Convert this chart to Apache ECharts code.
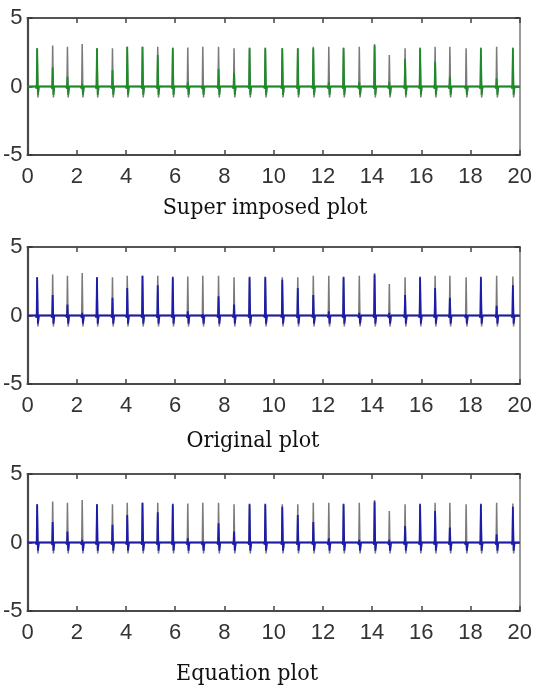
<!DOCTYPE html>
<html>
<head>
<meta charset="utf-8">
<script src="https://cdn.jsdelivr.net/npm/echarts@6/dist/echarts.min.js"></script>
<style>
html,body{margin:0;padding:0;background:#fff;}
#chart{width:535px;height:692px;}
</style>
</head>
<body>
<div id="chart"></div>
<script>
// ---- data ----
const beatTimes = [0.39, 1.02, 1.62, 2.22, 2.82, 3.45, 4.05, 4.67, 5.29, 5.90, 6.51, 7.12, 7.76, 8.39, 9.02, 9.66,
                   10.35, 10.98, 11.61, 12.24, 12.84, 13.48, 14.10, 14.70, 15.34, 15.95, 16.56, 17.16, 17.82, 18.42, 19.06, 19.72];
// peaks of the (gray) reference ECG trace
const grayPeaks = [2.8, 3.0, 2.9, 3.1, 2.8, 2.8, 2.9, 2.9, 2.9, 2.85, 2.85, 2.9, 2.9, 2.8, 2.85, 2.85,
                   2.8, 2.8, 2.9, 2.9, 2.85, 2.9, 3.1, 2.3, 2.8, 2.85, 2.9, 2.9, 2.8, 2.85, 2.9, 2.85];
// peaks of the coloured traces
const superPeaks = [2.8, 1.4, 0.7, 0.2, 2.8, 1.2, 2.9, 2.9, 2.3, 2.8, 0.3, 0.1, 1.3, 1.0, 2.8, 2.8,
                    2.8, 2.8, 2.8, 0.3, 2.8, 0.3, 3.0, 0.3, 2.0, 2.8, 1.8, 0.7, 0.1, 2.8, 0.6, 2.8];
const originalPeaks = [2.8, 1.5, 0.8, 0.2, 2.8, 1.3, 2.0, 2.9, 2.2, 2.8, 0.3, 0.1, 1.4, 0.8, 2.8, 2.8,
                       2.6, 2.0, 1.5, 0.3, 2.8, 0.2, 3.0, 0.2, 1.5, 2.8, 2.0, 1.3, 0.1, 2.8, 0.7, 2.2];
const equationPeaks = [2.8, 1.5, 0.8, 0.2, 2.8, 1.3, 2.0, 2.9, 2.2, 2.8, 0.3, 0.1, 1.4, 0.8, 2.8, 2.8,
                       2.6, 2.0, 1.5, 0.3, 2.8, 0.2, 3.0, 0.2, 1.2, 2.8, 2.3, 1.1, 0.1, 2.8, 0.6, 2.6];
const grayTrough = -0.8;
const colorTrough = -0.6;
const xTicks = [0, 2, 4, 6, 8, 10, 12, 14, 16, 18, 20];
const yTicks = [-5, 0, 5];
const plotTitles = ['Super imposed plot', 'Original plot', 'Equation plot'];
const plotColors = ['#1f8a2a', '#1c1ca8', '#1c1ca8'];
const colorPeaks = [superPeaks, originalPeaks, equationPeaks];

// ---- layout ----
const gridTops = [18, 247, 474];
const gridH = 137;
const titleY = [208, 441, 674];
const titleX = [265, 253, 247];
const numFont = '"Liberation Sans", Arial, sans-serif';
const serifFont = '"DejaVu Serif Condensed", "DejaVu Serif", serif';

function wave(peaks, trough) {
  const pts = [[0, 0]];
  beatTimes.forEach((t, i) => {
    pts.push([t - 0.06, 0], [t - 0.02, -0.15], [t, peaks[i]], [t + 0.03, trough], [t + 0.07, 0]);
  });
  pts.push([20, 0]);
  return pts;
}

const grids = [], xAxes = [], yAxes = [], series = [], graphics = [];
for (let i = 0; i < 3; i++) {
  grids.push({left: 26, right: 7, top: gridTops[i], height: gridH, show: false});
  const xBase = {
    type: 'value', gridIndex: i, min: xTicks[0], max: xTicks[xTicks.length - 1], interval: 2,
    splitLine: {show: false},
    axisTick: {inside: true, length: 5, lineStyle: {color: '#444', width: 1.5}}
  };
  xAxes.push(Object.assign({}, xBase, {
    position: 'bottom',
    axisLine: {show: true, onZero: false, lineStyle: {color: '#4a4a4a', width: 2.2}},
    axisLabel: {fontSize: 22, color: '#333', margin: 11, fontFamily: numFont}
  }));
  xAxes.push(Object.assign({}, xBase, {
    position: 'top',
    axisLine: {show: true, onZero: false, lineStyle: {color: '#555', width: 2.2}},
    axisLabel: {show: false}
  }));
  const yBase = {
    type: 'value', gridIndex: i, min: yTicks[0], max: yTicks[yTicks.length - 1], interval: 5,
    splitLine: {show: false},
    axisTick: {inside: true, length: 5, lineStyle: {color: '#333', width: 1.5}}
  };
  yAxes.push(Object.assign({}, yBase, {
    position: 'left',
    axisLine: {show: true, onZero: false, lineStyle: {color: '#4a4a4a', width: 2.2}},
    axisLabel: {fontSize: 22, color: '#333', margin: 5, fontFamily: numFont}
  }));
  yAxes.push(Object.assign({}, yBase, {
    position: 'right',
    axisLine: {show: true, onZero: false, lineStyle: {color: '#9a9a9a', width: 2}},
    axisLabel: {show: false}
  }));
  series.push({
    type: 'line', xAxisIndex: 2 * i, yAxisIndex: 2 * i, showSymbol: false, animation: false,
    data: wave(grayPeaks, grayTrough), lineStyle: {color: '#7a7a7a', width: 1.5}, z: 2
  });
  series.push({
    type: 'line', xAxisIndex: 2 * i, yAxisIndex: 2 * i, showSymbol: false, animation: false,
    data: wave(colorPeaks[i], colorTrough), lineStyle: {color: plotColors[i], width: 1.8}, z: 3
  });
  graphics.push({
    type: 'text', x: titleX[i], y: titleY[i],
    style: {text: plotTitles[i], font: '23px ' + serifFont, fill: '#111', textAlign: 'center', textVerticalAlign: 'middle'}
  });
}

const chart = echarts.init(document.getElementById('chart'), null, {renderer: 'canvas'});
chart.setOption({
  animation: false,
  backgroundColor: '#fff',
  grid: grids, xAxis: xAxes, yAxis: yAxes, series: series, graphic: graphics
});
</script>
</body>
</html>
